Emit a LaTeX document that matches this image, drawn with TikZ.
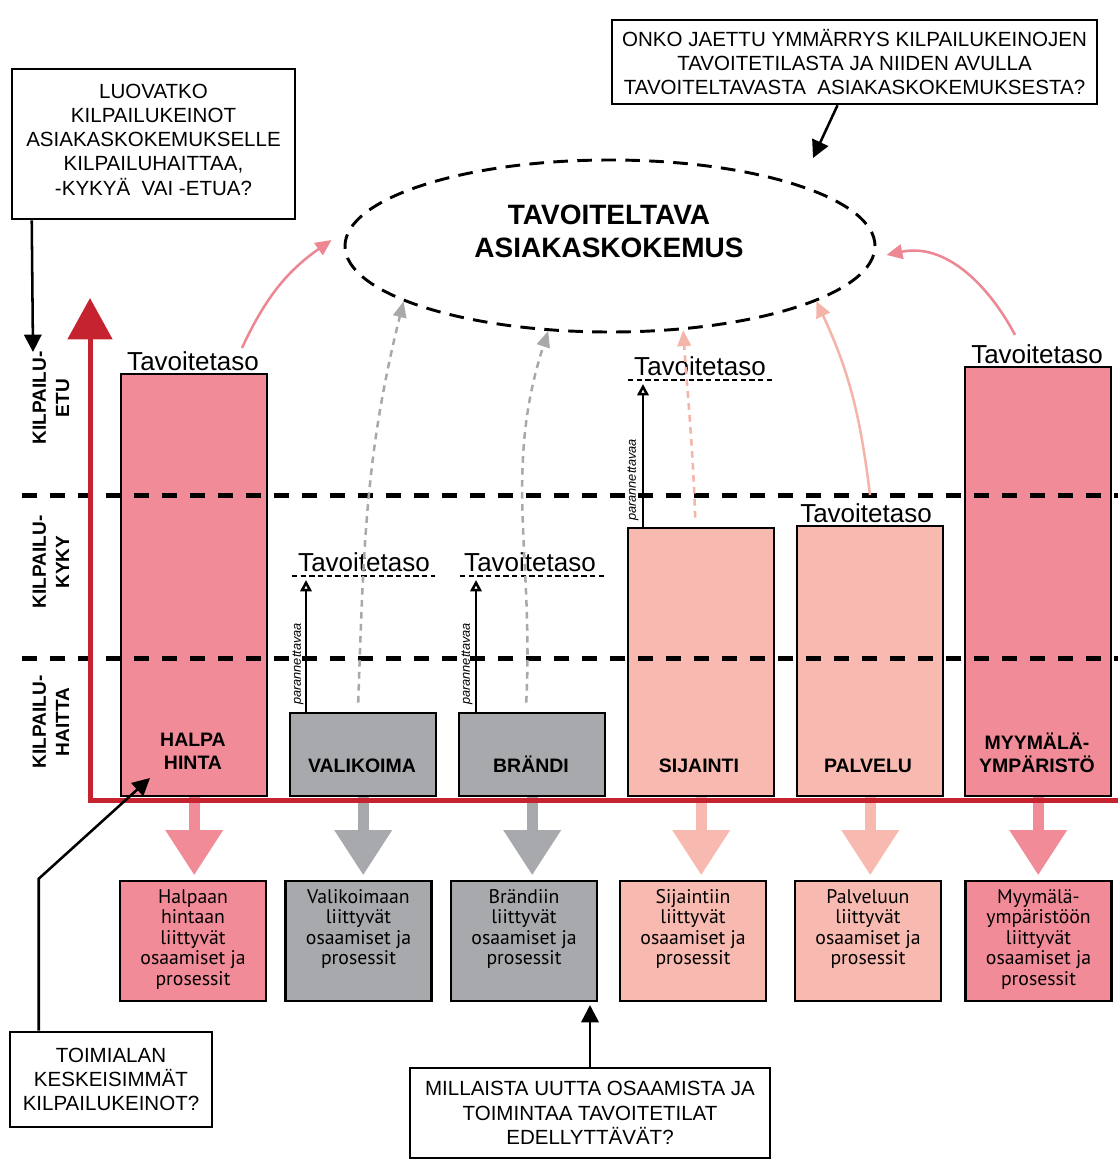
\documentclass[tikz,border=0pt]{standalone}
\usepackage{fontspec}
\setmainfont{Liberation Sans}
\newfontfamily\procfont{PT Sans}
\usetikzlibrary{arrows.meta,shapes.geometric,calc}

\definecolor{strongpink}{HTML}{F28B98}
\definecolor{softpink}{HTML}{F8BAB0}
\definecolor{slate}{HTML}{A7A9AC}
\definecolor{axisred}{HTML}{C4232F}
\definecolor{arcpink}{HTML}{EE8794}
\definecolor{arcsoft}{HTML}{F5B4A9}
\definecolor{arcgray}{HTML}{A8A9AB}

\begin{document}
\begin{tikzpicture}[x=0.75pt,y=0.75pt,
  callout/.style={draw, line width=1.9pt, fill=white, inner sep=0pt},
  callouttext/.style={align=center, inner sep=0pt,
    font=\fontsize{15.4}{18.2}\selectfont},
  calloutarrow/.style={line width=1.9pt, -{Triangle[length=13pt,width=13pt]}},
  zoneline/.style={line width=3.75pt, dash pattern=on 11pt off 10pt},
  zonelabel/.style={rotate=90, align=center, inner sep=0pt,
    font=\bfseries\fontsize{14.3}{17.5}\selectfont},
  bar/.style={draw, line width=1.8pt, inner sep=0pt, anchor=south west,
    minimum width=109.5pt},
  barlabel/.style={align=center, inner sep=0pt,
    font=\bfseries\fontsize{14.6}{17.3}\selectfont},
  goallabel/.style={anchor=base, inner sep=0pt, font=\fontsize{19.5}{20}\selectfont},
  goalline/.style={line width=1.5pt, dash pattern=on 4pt off 2.5pt},
  improve/.style={line width=1.9pt, -{Triangle[open,length=8.5pt,width=8.5pt]}},
  improvetext/.style={rotate=90, inner sep=0pt, font=\itshape\fontsize{9.6}{10}\selectfont},
  solidarc/.style={line width=1.9pt, -{Triangle[length=12pt,width=11pt]}},
  dasharc/.style={line width=1.9pt, dash pattern=on 5pt off 4pt,
    -{Triangle[length=12pt,width=10pt]}},
  blockarrow/.style={line width=8.5pt, shorten >=3.5pt,
    -{Triangle[length=34pt,width=41pt]}},
  procbox/.style={draw, line width=1.8pt, inner sep=0pt, minimum width=109.5pt,
    minimum height=90pt, anchor=north},
  proctext/.style={align=center, inner sep=0pt, anchor=north,
    font=\procfont\fontsize{14.8}{15.4}\selectfont},
]
\useasboundingbox (0,0) rectangle (1118,-1159);

% ---------- competitive means as bars ----------
\node[bar, fill=strongpink, minimum height=316.5pt] (barH) at (120,-797) {};
\node[bar, fill=slate,      minimum height=62.25pt] (barV) at (289,-797) {};
\node[bar, fill=slate,      minimum height=62.25pt] (barB) at (458,-797) {};
\node[bar, fill=softpink,   minimum height=201pt]   (barS) at (627,-797) {};
\node[bar, fill=softpink,   minimum height=202.5pt] (barP) at (796,-797) {};
\node[bar, fill=strongpink, minimum height=321.75pt] (barM) at (964,-797) {};

\node[barlabel] (lH) at (193,-751.5) {HALPA\\HINTA};
\node[barlabel, anchor=base] (lV) at (362,-772) {VALIKOIMA};
\node[barlabel, anchor=base] (lB) at (531,-772) {BRÄNDI};
\node[barlabel, anchor=base] (lS) at (699,-772) {SIJAINTI};
\node[barlabel, anchor=base] (lP) at (868,-772) {PALVELU};
\node[barlabel] (lM) at (1037,-752.5) {MYYMÄLÄ-\\YMPÄRISTÖ};

% ---------- target levels ----------
\node[goallabel] (tH) at (193,-370) {Tavoitetaso};
\node[goallabel] (tV) at (364,-571) {Tavoitetaso};
\node[goallabel] (tB) at (530,-571) {Tavoitetaso};
\node[goallabel] (tS) at (700,-375) {Tavoitetaso};
\node[goallabel] (tP) at (866,-522) {Tavoitetaso};
\node[goallabel] (tM) at (1037,-363) {Tavoitetaso};

\draw[goalline] (120,-373.5) -- (266,-373.5);
\draw[goalline] (292,-576) -- (435,-576);
\draw[goalline] (460,-576) -- (604,-576);
\draw[goalline] (628,-380) -- (772,-380);
\draw[goalline] (796,-525.5) -- (941,-525.5);
\draw[goalline] (964,-366.5) -- (1110,-366.5);

% ---------- improvement needs ----------
\coordinate (gV) at (306,-580);
\coordinate (gB) at (476,-580);
\coordinate (gS) at (643,-384);
\draw[improve] ($(barV.north west)+(17,0)$) -- (gV);
\draw[improve] ($(barB.north west)+(18,0)$) -- (gB);
\draw[improve] ($(barS.north west)+(16,0)$) -- (gS);
\node[improvetext] (iV) at (298,-664) {parannettavaa};
\node[improvetext] (iB) at (467,-664) {parannettavaa};
\node[improvetext] (iS) at (633,-480) {parannettavaa};

% ---------- competences and processes ----------
\node[procbox, fill=strongpink] (pH) at (193,-880) {};
\node[procbox, fill=slate]      (pV) at (358.5,-880) {};
\node[procbox, fill=slate]      (pB) at (524,-880) {};
\node[procbox, fill=softpink]   (pS) at (693,-880) {};
\node[procbox, fill=softpink]   (pP) at (868,-880) {};
\node[procbox, fill=strongpink] (pM) at (1038.5,-880) {};

\node[proctext] (xH) at ($(pH.north)+(0,-9)$) {Halpaan\\hintaan\\liittyvät\\osaamiset ja\\prosessit};
\node[proctext] (xV) at ($(pV.north)+(0,-9)$) {Valikoimaan\\liittyvät\\osaamiset ja\\prosessit};
\node[proctext] (xB) at ($(pB.north)+(0,-9)$) {Brändiin\\liittyvät\\osaamiset ja\\prosessit};
\node[proctext] (xS) at ($(pS.north)+(0,-9)$) {Sijaintiin\\liittyvät\\osaamiset ja\\prosessit};
\node[proctext] (xP) at ($(pP.north)+(0,-9)$) {Palveluun\\liittyvät\\osaamiset ja\\prosessit};
\node[proctext] (xM) at ($(pM.north)+(0,-9)$) {Myymälä-\\ympäristöön\\liittyvät\\osaamiset ja\\prosessit};

\draw[blockarrow, strongpink] (barH.south) -- (barH.south |- pH.north);
\draw[blockarrow, slate]      (barV.south) -- (barV.south |- pV.north);
\draw[blockarrow, slate]      (barB.south) -- (barB.south |- pB.north);
\draw[blockarrow, softpink]   (barS.south) -- (barS.south |- pS.north);
\draw[blockarrow, softpink]   (barP.south) -- (barP.south |- pP.north);
\draw[blockarrow, strongpink] (barM.south) -- (barM.south |- pM.north);

% ---------- zones ----------
\draw[zoneline] (22,-495) -- (1118,-495);
\draw[zoneline] (22,-658) -- (1118,-658);
\node[zonelabel] (zE) at (51,-398) {KILPAILU-\\ETU};
\node[zonelabel] (zK) at (51,-562) {KILPAILU-\\KYKY};
\node[zonelabel] (zH) at (51,-722) {KILPAILU-\\HAITTA};

% ---------- axes ----------
\coordinate (origin) at (90,-800);
\coordinate (axisTop) at (90,-298);
\coordinate (axisEnd) at (1118,-800);
\draw[axisred, line width=3.75pt] (88,-800) -- (axisEnd);
\draw[axisred, line width=3.75pt, -{Triangle[length=31pt,width=33pt]}] (90,-802) -- (axisTop);

% ---------- desired customer experience ----------
\node[ellipse, draw, line width=2.2pt, dash pattern=on 11pt off 7pt,
      minimum width=397.5pt, minimum height=129pt, inner sep=0pt] (goal) at (610,-246) {};
\node[align=center, inner sep=0pt, font=\bfseries\fontsize{21}{24.75}\selectfont]
      (goaltitle) at (609,-231.5) {TAVOITELTAVA\\ASIAKASKOKEMUS};

\draw[solidarc, arcpink] ($(tH.north)+(49,3)$) to[out=65,in=215] ($(goal.west)+(-12,6)$);
\draw[dasharc, arcgray] ($(barV.north)+(-5,9)$) to[out=88,in=256] (goal.195);
\draw[dasharc, arcgray] ($(barB.north)+(-6,9)$) to[out=87,in=252] (goal.234);
\draw[dasharc, arcsoft] ($(barS.north)+(-6,9)$) to[out=92,in=274] (goal.311);
\draw[solidarc, arcsoft] ($(tP.north)+(4,8)$) to[out=97,in=295] (goal.345);
\draw[solidarc, arcpink] ($(tM.north)+(-22,9)$) to[out=118,in=12] ($(goal.east)+(10,-9)$);

% ---------- guiding questions ----------
\node[callout, minimum width=212.25pt, minimum height=112.5pt] (tl) at (153.5,-144) {};
\node[callouttext] (tlText) at ($(tl.center)+(0,4.5)$)
  {LUOVATKO\\KILPAILUKEINOT\\ASIAKASKOKEMUKSELLE\\KILPAILUHAITTAA,\\-KYKYÄ\ \ VAI -ETUA?};
\node[callout, minimum width=363.75pt, minimum height=63pt] (tr) at (854.5,-62) {};
\node[callouttext] (trText) at (tr.center)
  {ONKO JAETTU YMMÄRRYS KILPAILUKEINOJEN\\TAVOITETILASTA JA NIIDEN AVULLA\\TAVOITELTAVASTA\ \ ASIAKASKOKEMUKSESTA?};
\node[callout, minimum width=151.5pt, minimum height=71.25pt] (bl) at (111,-1079.5) {};
\node[callouttext] (blText) at (bl.center) {TOIMIALAN\\KESKEISIMMÄT\\KILPAILUKEINOT?};
\node[callout, minimum width=270pt, minimum height=67.5pt] (bm) at (590,-1113) {};
\node[callouttext] (bmText) at (bm.center)
  {MILLAISTA UUTTA OSAAMISTA JA\\TOIMINTAA TAVOITETILAT\\EDELLYTTÄVÄT?};

\coordinate (qa) at (33,-352);
\coordinate (qb) at (813,-158);
\coordinate (qc) at (150,-778);
\coordinate (qd) at (590,-1005);
\draw[calloutarrow] ($(tl.south west)+(21,0)$) -- (qa);
\draw[calloutarrow] ($(tr.south)+(-17,0)$) -- (qb);
\draw[calloutarrow] ($(bl.north west)+(30,0)$) -- ++(0,152) -- (qc);
\draw[calloutarrow] (bm.north) -- (qd);
\end{tikzpicture}
\end{document}
